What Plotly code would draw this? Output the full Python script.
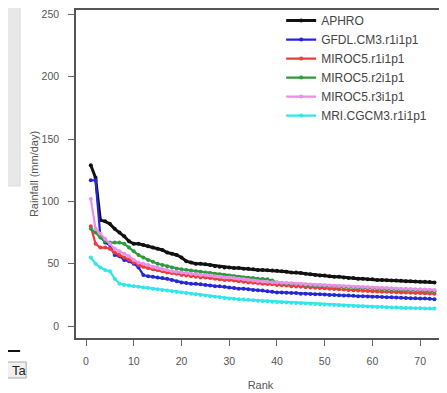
import plotly.graph_objects as go

rank = list(range(1, 74))

aphro = [129, 119, 85, 84, 82, 78, 75, 72, 68, 66, 66, 65, 64, 63, 62, 61, 59, 58, 57, 55,
         52, 51, 50, 50, 49.5, 49, 48, 47.5, 47, 47, 46.5, 46.5, 46, 46, 45.5, 45, 45, 44.8, 44.5, 44.3,
         44, 43.5, 43, 43, 42.5, 42, 41.5, 41, 40.5, 40.5, 40, 39.5, 39.5, 39, 38.5, 38.5, 38, 38, 37.5, 37.5,
         37, 37, 36.8, 36.5, 36.5, 36.3, 36, 36, 35.8, 35.5, 35.5, 35.3, 35]
gfdl = [117, 117, 72, 67, 65, 57, 56, 53, 52, 50, 47, 41, 40, 39.5, 39, 38.5, 38, 37, 36, 35,
        34.5, 34, 34, 33.5, 33, 32.5, 32, 32, 31.5, 31, 30.5, 30, 30, 29.5, 29, 28.8, 28.5, 28, 27.5, 27,
        27, 26.8, 26.5, 26.5, 26, 26, 25.8, 25.5, 25.5, 25.3, 25, 25, 24.8, 24.5, 24.5, 24.3, 24, 24, 23.8, 23.5,
        23.5, 23.3, 23, 23, 22.8, 22.6, 22.5, 22.3, 22.2, 22, 22, 21.8, 21.5]
miroc_r1 = [80, 66, 63, 63, 62, 59, 57, 55, 53, 51, 49, 47.5, 46.5, 45.5, 45, 44, 43, 42.5, 42, 41,
            40.5, 40, 39.5, 39, 39, 38.5, 38, 37.5, 37, 37, 36.5, 36, 35.5, 35, 34.8, 34.5, 34, 33.8, 33.5, 33,
            32.8, 32.5, 32, 31.8, 31.5, 31.2, 31, 30.8, 30.5, 30.3, 30, 29.8, 29.5, 29.3, 29, 28.8, 28.6, 28.4, 28.2, 28,
            27.8, 27.6, 27.5, 27.3, 27.2, 27, 26.9, 26.8, 26.6, 26.5, 26.3, 26.2, 26]
miroc_r2 = [78, 75, 71, 68, 67, 67, 67, 66, 63, 60, 57, 55, 53, 51.5, 50, 49, 48, 47, 46, 45.5,
            45, 44.5, 44, 43.5, 43, 42.5, 42, 41.5, 41, 40.5, 40, 39.5, 39, 38.8, 38.5, 38, 37.8, 37.5, 36.5, 35,
            34.5, 34, 33.8, 33.5, 33.3, 33, 32.8, 32.6, 32.4, 32.2, 32, 31.8, 31.6, 31.4, 31.2, 31, 30.8, 30.6, 30.4, 30.2,
            30, 29.8, 29.6, 29.4, 29.2, 29, 28.9, 28.8, 28.6, 28.5, 28.3, 28.2, 28]
miroc_r3 = [102, 78, 74, 70, 66, 62, 60, 58, 56, 53, 51, 50, 49, 47.5, 46.5, 45.5, 45, 44, 43.5, 43,
            42.5, 42, 41.5, 41, 41, 40.5, 40, 39.5, 39, 39, 38.5, 38, 37.5, 37, 36.5, 36, 35.8, 35.5, 35.2, 35,
            34.8, 34.5, 34.3, 34, 33.8, 33.6, 33.4, 33.2, 33, 32.8, 32.6, 32.4, 32.2, 32, 31.8, 31.6, 31.5, 31.3, 31.2, 31,
            30.8, 30.6, 30.5, 30.3, 30.2, 30, 29.9, 29.8, 29.6, 29.5, 29.3, 29.2, 29]
mri = [55, 50, 47, 45, 44, 38, 34, 33, 32.5, 32, 31.5, 31, 30.5, 30, 29.5, 29, 28.5, 28, 27.5, 27,
       26.5, 26, 25.5, 25, 24.5, 24, 23.5, 23, 22.5, 22, 21.8, 21.5, 21.2, 21, 20.6, 20.3, 20, 19.8, 19.5, 19.2,
       19, 18.8, 18.6, 18.4, 18.2, 18, 17.8, 17.6, 17.4, 17.2, 17, 16.8, 16.6, 16.4, 16.2, 16, 15.9, 15.8, 15.6, 15.5,
       15.3, 15.2, 15, 14.9, 14.8, 14.6, 14.5, 14.4, 14.3, 14.2, 14.1, 14, 14]

names = ["APHRO", "GFDL.CM3.r1i1p1", "MIROC5.r1i1p1", "MIROC5.r2i1p1", "MIROC5.r3i1p1", "MRI.CGCM3.r1i1p1"]
series = [aphro, gfdl, miroc_r1, miroc_r2, miroc_r3, mri]
colors = ["#111111", "#2626d9", "#f03a3a", "#2e9a3e", "#e890e8", "#30e6ea"]
widths = [3, 2.2, 2.2, 2.2, 2.2, 2.2]

x_ticks = [0, 10, 20, 30, 40, 50, 60, 70]
y_ticks = [0, 50, 100, 150, 200, 250]

fig = go.Figure()
for n, s, c, w in zip(names, series, colors, widths):
    fig.add_trace(go.Scatter(x=rank, y=s, name=n, mode="lines+markers",
                             line=dict(color=c, width=w),
                             marker=dict(color=c, size=4, symbol="circle")))

fig.update_layout(
    width=439, height=385,
    margin=dict(l=68, r=2, t=2, b=55, autoexpand=False),
    paper_bgcolor="white", plot_bgcolor="white",
    font=dict(family="Liberation Sans, Arial, sans-serif", size=10.5, color="#555555"),
    showlegend=True,
    legend=dict(x=0.556, y=1.012, xanchor="left", yanchor="top",
                bgcolor="rgba(255,255,255,0)", font=dict(size=12, color="#444444"),
                itemwidth=30, tracegroupgap=0),
    xaxis=dict(range=[-2.1, 75.2], tickvals=x_ticks, ticks="outside", ticklen=6,
               tickcolor="#666666", showline=True, linecolor="#555555", linewidth=1.5,
               mirror=True, showgrid=False, zeroline=False, automargin=False,
               ticklabelstandoff=7, ticklabeloverflow="allow",
               title=dict(text="Rank", font=dict(size=11, color="#555555"), standoff=15)),
    yaxis=dict(range=[-9.6, 253.6], tickvals=y_ticks, ticks="outside", ticklen=6,
               tickcolor="#666666", showline=True, linecolor="#555555", linewidth=1.5,
               mirror=True, showgrid=False, zeroline=False, automargin=False,
               ticklabelstandoff=7, ticklabeloverflow="allow",
               title=dict(text="Rainfall (mm/day)", font=dict(size=11, color="#555555"), standoff=1)),
)

# surrounding page elements visible in the screenshot
fig.add_shape(type="rect", xref="paper", yref="paper",
              x0=-0.23, x1=-0.1514, y0=0.4634, y1=1.03,
              fillcolor="#e8e8e8", line=dict(color="#dddddd", width=1), layer="below")
fig.add_shape(type="line", xref="paper", yref="paper",
              x0=-0.23, x1=-0.1514, y0=-0.0396, y1=-0.0396,
              line=dict(color="#111111", width=2))
fig.add_shape(type="rect", xref="paper", yref="paper",
              x0=-0.23, x1=-0.135, y0=-0.1220, y1=-0.0732,
              fillcolor="#f0f0f0", line=dict(color="#aaaaaa", width=1))
fig.add_annotation(xref="paper", yref="paper", x=-0.178, y=-0.0976, xanchor="left",
                   yanchor="middle", text="Ta", showarrow=False,
                   font=dict(size=13, color="#222222"))

fig.write_html("out.html")
